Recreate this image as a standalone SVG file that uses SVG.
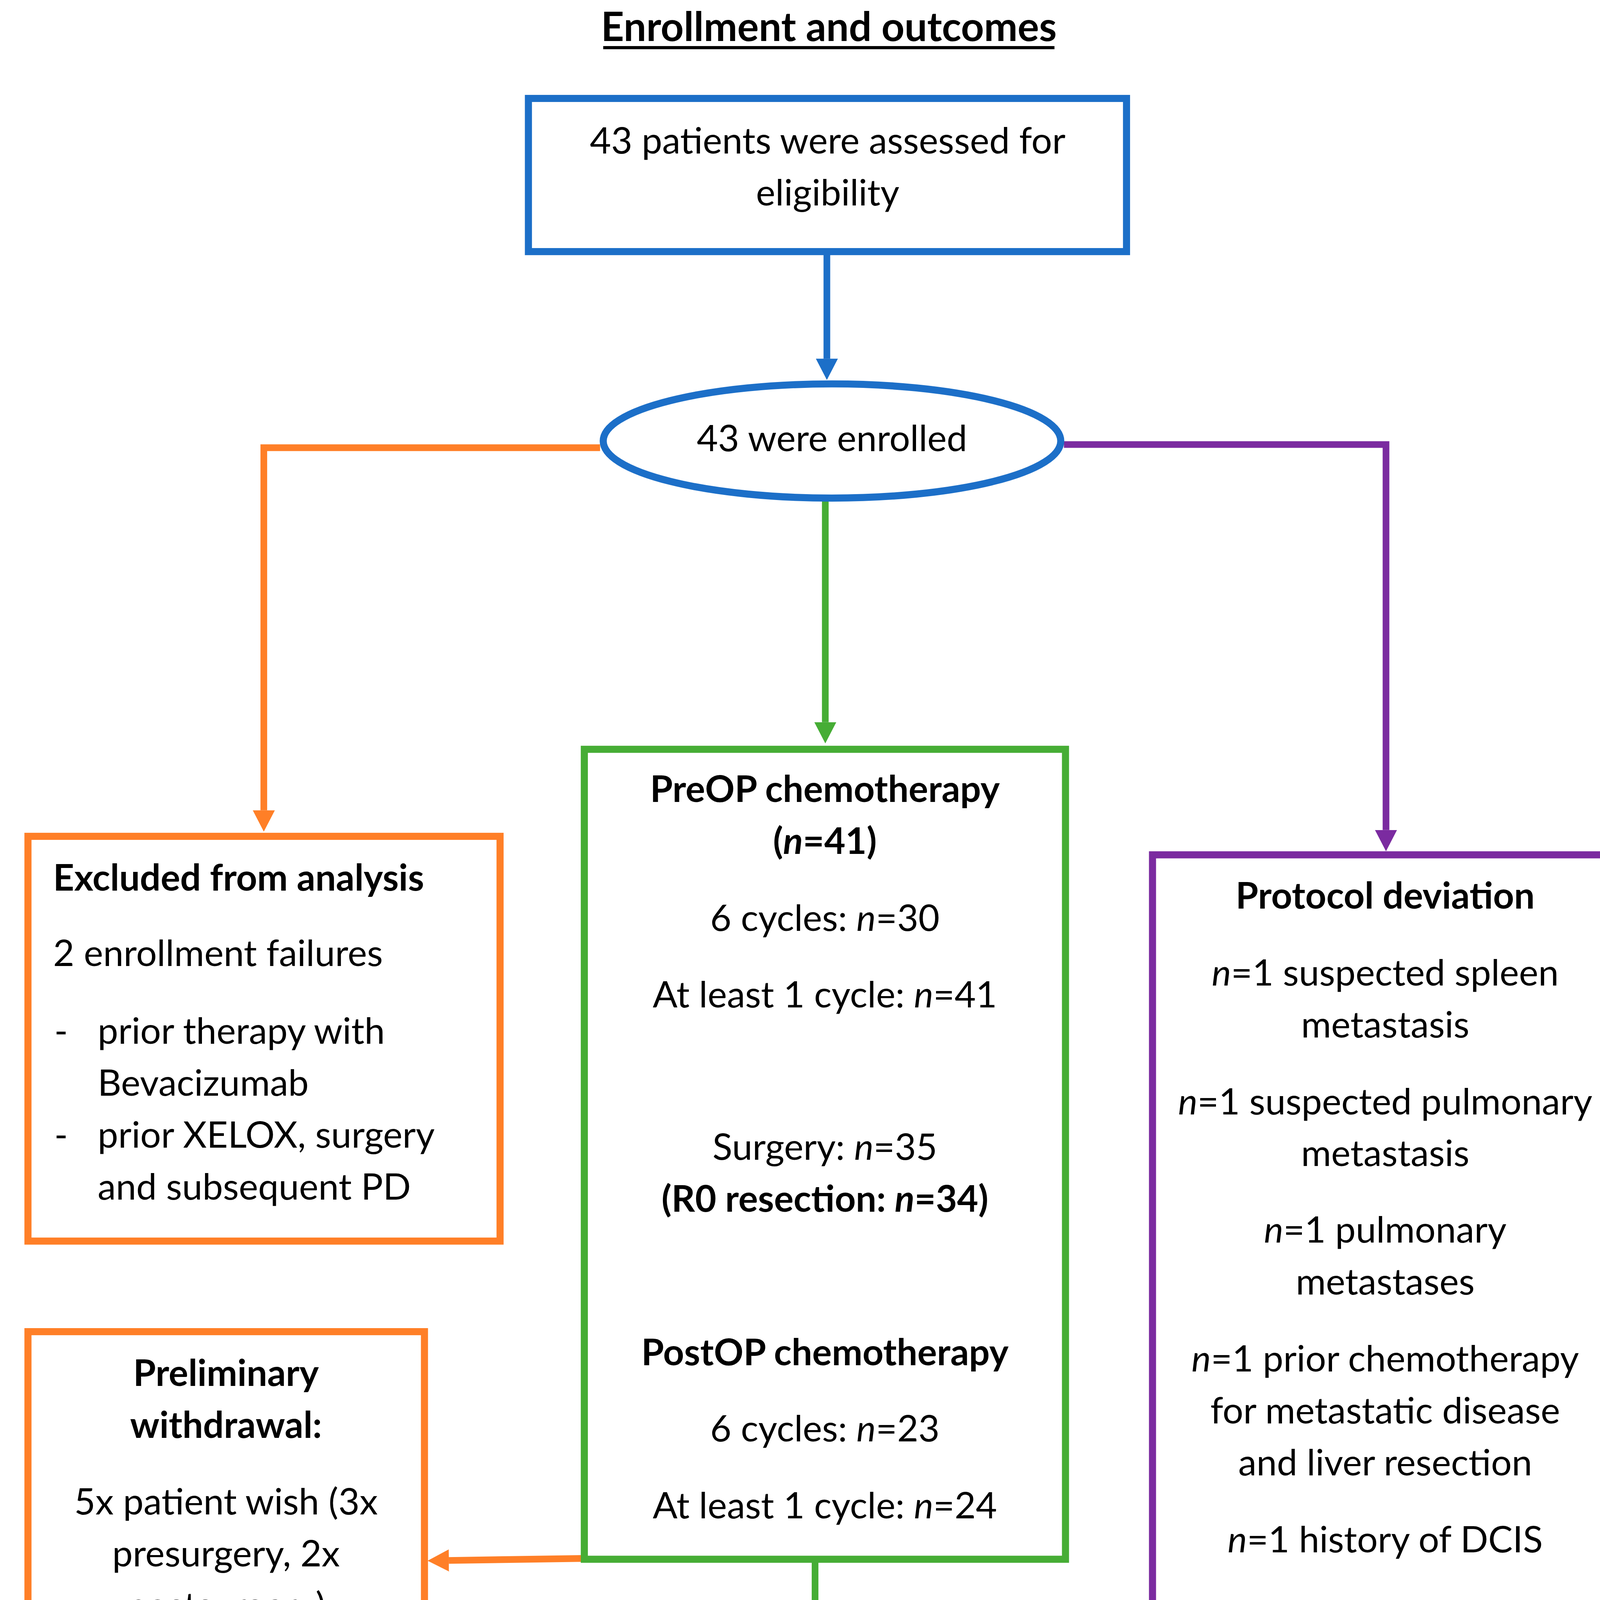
<svg xmlns="http://www.w3.org/2000/svg" width="4193" height="5213" viewBox="0 0 4193 5213">
<style>
text{font-family:Lato,"Liberation Sans",sans-serif;font-size:93px;fill:#000}
text.t{font-size:102px}
.c{text-anchor:middle}
.b{font-weight:bold}
.i{font-style:italic}
.box{fill:#fff;stroke-width:18}
.blue{stroke:#1c6fc8}
.orange{stroke:#ff7f27}
.green{stroke:#46ad35}
.purple{stroke:#7b2ba0}
.con{fill:none;stroke-width:17}
</style>
<defs>
<marker id="mb" markerUnits="userSpaceOnUse" markerWidth="54" markerHeight="56" refX="0" refY="28" orient="auto"><path d="M0,0 L54,28 L0,56 z" fill="#1c6fc8"/></marker>
<marker id="mo" markerUnits="userSpaceOnUse" markerWidth="54" markerHeight="56" refX="0" refY="28" orient="auto"><path d="M0,0 L54,28 L0,56 z" fill="#ff7f27"/></marker>
<marker id="mg" markerUnits="userSpaceOnUse" markerWidth="54" markerHeight="56" refX="0" refY="28" orient="auto"><path d="M0,0 L54,28 L0,56 z" fill="#46ad35"/></marker>
<marker id="mp" markerUnits="userSpaceOnUse" markerWidth="54" markerHeight="56" refX="0" refY="28" orient="auto"><path d="M0,0 L54,28 L0,56 z" fill="#7b2ba0"/></marker>
</defs>
<rect width="4193" height="5213" fill="#fff"/>
<g transform="scale(1.008)">
<g id="title">
<text class="t c b" x="2105" y="104">Enrollment and outcomes</text>
<rect x="1532" y="117" width="1146" height="8" fill="#000"/>
</g>
<g id="connectors">
<path class="con blue" d="M2100,639 L2100,911" marker-end="url(#mb)"/>
<path class="con orange" d="M1524,1137 L670,1137 L670,2058" marker-end="url(#mo)"/>
<path class="con purple" d="M2702,1129 L3520,1129 L3520,2108" marker-end="url(#mp)"/>
<path class="con green" d="M2096,1266 L2096,1834" marker-end="url(#mg)"/>
<path class="con orange" d="M1480,3958 L1140,3963" marker-end="url(#mo)"/>
<path class="con green" d="M2070,3968 L2070,4362" marker-end="url(#mg)"/>
</g>
<g id="assessed">
<rect class="box blue" x="1342" y="250" width="1519" height="389"/>
<text class="c" x="2102" y="390">43 patients were assessed for</text>
<text class="c" x="2102" y="522">eligibility</text>
</g>
<g id="enrolled">
<ellipse class="box blue" cx="2113" cy="1120" rx="581" ry="145"/>
<text class="c" x="2113" y="1146">43 were enrolled</text>
</g>
<g id="excluded">
<rect class="box orange" x="71" y="2124" width="1199" height="1028"/>
<text class="b" x="135" y="2262">Excluded from analysis</text>
<text x="135" y="2453">2 enrollment failures</text>
<text x="138" y="2651">-</text>
<text x="248" y="2651">prior therapy with</text>
<text x="248" y="2783">Bevacizumab</text>
<text x="138" y="2915">-</text>
<text x="248" y="2915">prior XELOX, surgery</text>
<text x="248" y="3047">and subsequent PD</text>
</g>
<g id="treatment">
<rect class="box green" x="1484" y="1903" width="1222" height="2057"/>
<text class="c b" x="2095" y="2037">PreOP chemotherapy</text>
<text class="c b" x="2095" y="2169">(<tspan class="i">n</tspan>=41)</text>
<text class="c" x="2095" y="2364">6 cycles: <tspan class="i">n</tspan>=30</text>
<text class="c" x="2095" y="2559">At least 1 cycle: <tspan class="i">n</tspan>=41</text>
<text class="c" x="2095" y="2945">Surgery: <tspan class="i">n</tspan>=35</text>
<text class="c b" x="2095" y="3077">(R0 resection: <tspan class="i">n</tspan>=34)</text>
<text class="c b" x="2095" y="3467">PostOP chemotherapy</text>
<text class="c" x="2095" y="3661">6 cycles: <tspan class="i">n</tspan>=23</text>
<text class="c" x="2095" y="3856">At least 1 cycle: <tspan class="i">n</tspan>=24</text>
</g>
<g id="protocol">
<rect class="box purple" x="2927" y="2171" width="1182" height="2192"/>
<text class="c b" x="3518" y="2308">Protocol deviation</text>
<text class="c" x="3518" y="2503"><tspan class="i">n</tspan>=1 suspected spleen</text>
<text class="c" x="3518" y="2635">metastasis</text>
<text class="c" x="3518" y="2830"><tspan class="i">n</tspan>=1 suspected pulmonary</text>
<text class="c" x="3518" y="2961">metastasis</text>
<text class="c" x="3518" y="3156"><tspan class="i">n</tspan>=1 pulmonary</text>
<text class="c" x="3518" y="3288">metastases</text>
<text class="c" x="3518" y="3483"><tspan class="i">n</tspan>=1 prior chemotherapy</text>
<text class="c" x="3518" y="3615">for metastatic disease</text>
<text class="c" x="3518" y="3747">and liver resection</text>
<text class="c" x="3518" y="3942"><tspan class="i">n</tspan>=1 history of DCIS</text>
<text class="c" x="3518" y="4137"><tspan class="i">n</tspan>=1 target lesions too</text>
<text class="c" x="3518" y="4269">small</text>
</g>
<g id="withdrawal">
<rect class="box orange" x="71" y="3382" width="1007" height="1585"/>
<text class="c b" x="574" y="3520">Preliminary</text>
<text class="c b" x="574" y="3652">withdrawal:</text>
<text class="c" x="574" y="3846">5x patient wish (3x</text>
<text class="c" x="574" y="3978">presurgery, 2x</text>
<text class="c" x="574" y="4110">postsurgery)</text>
<text class="c" x="574" y="4305">2x PD (1x presurgery,</text>
<text class="c" x="574" y="4437">1x postsurgery)</text>
<text class="c" x="574" y="4632">10x AE/SAE (2x</text>
<text class="c" x="574" y="4764">presurgery, 8x</text>
<text class="c" x="574" y="4896">postsurgery)</text>
</g>
<g id="analysis">
<rect class="box green" x="1428" y="4430" width="1281" height="656"/>
<text class="c" x="2068" y="4560"><tspan class="i">n</tspan>=41 included in efficacy</text>
<text class="c" x="2068" y="4692">analysis</text>
<text class="c" x="2068" y="4887"><tspan class="i">n</tspan>=41 included in safety</text>
<text class="c" x="2068" y="5019">analysis</text>
</g>
</g>
</svg>
